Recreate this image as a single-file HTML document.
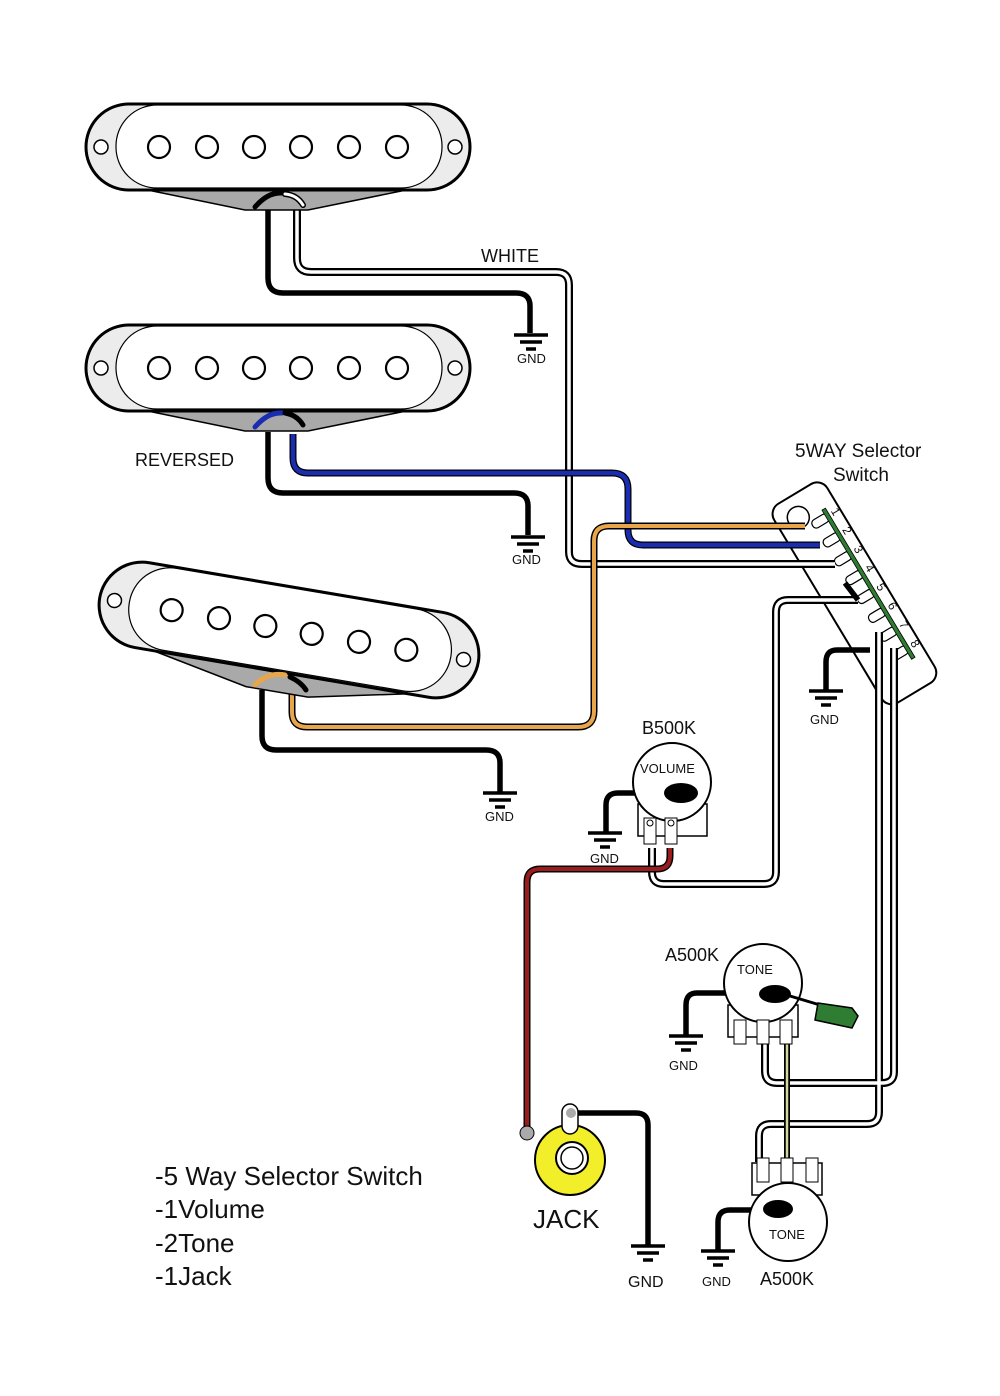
<!DOCTYPE html>
<html><head><meta charset="utf-8"><style>
html,body{margin:0;padding:0;background:#fff}
svg{display:block}
text{font-family:"Liberation Sans",sans-serif;fill:#111}
</style></head><body>
<svg width="1000" height="1396" viewBox="0 0 1000 1396" xmlns="http://www.w3.org/2000/svg">
<defs>
<g id="pu">
<path d="M-145,40 L-33,63 L30,63 L143,40 Z" fill="#a9a9a9" stroke="#000" stroke-width="1.5"/>
<rect x="-192" y="-43" width="384" height="86" rx="43" fill="#ececec" stroke="#000" stroke-width="3"/>
<rect x="-162" y="-42" width="326" height="83" rx="41" fill="#fff" stroke="#000" stroke-width="1.2"/>
<circle cx="-177" cy="0" r="7" fill="#fff" stroke="#000" stroke-width="1.5"/>
<circle cx="177" cy="0" r="7" fill="#fff" stroke="#000" stroke-width="1.5"/>
<g fill="#fff" stroke="#000" stroke-width="2.2">
<circle cx="-119" cy="0" r="11"/><circle cx="-71" cy="0" r="11"/><circle cx="-24" cy="0" r="11"/>
<circle cx="23" cy="0" r="11"/><circle cx="71" cy="0" r="11"/><circle cx="119" cy="0" r="11"/>
</g>
</g>
<g id="gnd" stroke="#000" stroke-width="3.5">
<line x1="-17" y1="0" x2="17" y2="0"/><line x1="-11" y1="7" x2="11" y2="7"/><line x1="-5" y1="14" x2="5" y2="14"/>
</g>
</defs>

<!-- switch body -->
<g transform="translate(845,599) rotate(59)">
<rect x="-116" y="-42" width="232" height="62" rx="12" fill="#fff" stroke="#000" stroke-width="2"/>
<circle cx="-94" cy="-2" r="11" fill="#fff" stroke="#000" stroke-width="1.5"/>
<g fill="#fff" stroke="#000" stroke-width="1.2">
<rect x="-84" y="-28" width="9" height="18" rx="4"/><rect x="-62" y="-28" width="9" height="18" rx="4"/>
<rect x="-40" y="-28" width="9" height="18" rx="4"/><rect x="-18" y="-28" width="9" height="18" rx="4"/>
<rect x="4" y="-28" width="9" height="18" rx="4"/><rect x="26" y="-28" width="9" height="18" rx="4"/>
<rect x="48" y="-28" width="9" height="18" rx="4"/><rect x="70" y="-28" width="9" height="18" rx="4"/>
</g>
<rect x="-88" y="-30" width="174" height="4" fill="#2e7d32" stroke="#000" stroke-width="0.8"/>
<g font-size="12" fill="#000">
<text x="-83" y="-33">1</text><text x="-61" y="-33">2</text><text x="-39" y="-33">3</text><text x="-17" y="-33">4</text>
<text x="5" y="-33">5</text><text x="27" y="-33">6</text><text x="49" y="-33">7</text><text x="71" y="-33">8</text>
</g>
</g>

<!-- white double wires -->
<g fill="none" stroke-linejoin="round">
<g stroke="#000" stroke-width="8">
<path d="M297,205 V258 Q297,272 311,272 H556 Q569,272 569,285 V552 Q569,564 582,564 H835"/>
<path d="M858,600 H788 Q776,600 776,612 V872 Q776,884 764,884 H664 Q652,884 652,872 V848"/>
<path d="M879,632 V1112 Q879,1124 867,1124 H771 Q759,1124 759,1136 V1162"/>
<path d="M894,648 V1072 Q894,1083 882,1083 H777 Q765,1083 765,1071 V1042"/>
</g>
<g stroke="#fff" stroke-width="3.5">
<path d="M297,205 V258 Q297,272 311,272 H556 Q569,272 569,285 V552 Q569,564 582,564 H835"/>
<path d="M858,600 H788 Q776,600 776,612 V872 Q776,884 764,884 H664 Q652,884 652,872 V848"/>
<path d="M879,632 V1112 Q879,1124 867,1124 H771 Q759,1124 759,1136 V1162"/>
<path d="M894,648 V1072 Q894,1083 882,1083 H777 Q765,1083 765,1071 V1042"/>
</g>
</g>

<!-- black ground wires -->
<g fill="none" stroke="#000" stroke-width="5.5">
<path d="M268,205 V278 Q268,293 283,293 H516 Q530,293 530,306 V333"/>
<path d="M268,432 V478 Q268,493 283,493 H514 Q528,493 528,506 V535"/>
<path d="M262,690 V736 Q262,750 276,750 H486 Q500,750 500,763 V792"/>
<path d="M870,650 H837 Q826,650 826,662 V690"/>
<path d="M680,793 H618 Q606,793 606,805 V832"/>
<path d="M775,993 H697 Q686,993 686,1005 V1035"/>
<path d="M778,1210 H730 Q718,1210 718,1222 V1250"/>
<path d="M574,1113 H636 Q648,1113 648,1125 V1245"/>
<path d="M845,583 L858,600"/>
</g>
<!-- blue -->
<path d="M293,434 V458 Q293,473 308,473 H612 Q628,473 628,489 V530 Q628,545 643,545 H820" fill="none" stroke="#000" stroke-width="7"/>
<path d="M293,434 V458 Q293,473 308,473 H612 Q628,473 628,489 V530 Q628,545 643,545 H820" fill="none" stroke="#1a2db0" stroke-width="4.5"/>
<!-- orange -->
<path d="M292,692 V712 Q292,727 307,727 H578 Q594,727 594,711 V541 Q594,526 609,526 H805" fill="none" stroke="#000" stroke-width="7"/>
<path d="M292,692 V712 Q292,727 307,727 H578 Q594,727 594,711 V541 Q594,526 609,526 H805" fill="none" stroke="#e8a64a" stroke-width="4"/>
<!-- red -->
<path d="M670,848 V856 Q670,869 657,869 H540 Q527,869 527,882 V1130" fill="none" stroke="#000" stroke-width="7"/>
<path d="M670,848 V856 Q670,869 657,869 H540 Q527,869 527,882 V1130" fill="none" stroke="#9b1c1c" stroke-width="4"/>
<!-- tone wire -->
<path d="M787,1042 V1162" stroke="#000" stroke-width="6" fill="none"/>
<path d="M787,1042 V1162" stroke="#d6d6a0" stroke-width="2.5" fill="none"/>

<!-- pickups -->
<use href="#pu" x="278" y="147"/>
<use href="#pu" x="278" y="368"/>
<g transform="translate(289,630) rotate(9.6)"><use href="#pu"/></g>
<g fill="none" stroke-linecap="round">
<path d="M255,207 Q268,192 282,193" stroke="#000" stroke-width="5"/>
<path d="M285,194 Q297,195 303,205" stroke="#000" stroke-width="6"/><path d="M285,194 Q297,195 303,205" stroke="#fff" stroke-width="3"/>
<path d="M255,427 Q268,412 282,413" stroke="#1a2db0" stroke-width="5"/>
<path d="M285,413 Q297,415 303,425" stroke="#000" stroke-width="5"/>
<path d="M255,685 Q268,672 285,675" stroke="#e8a64a" stroke-width="5"/>
<path d="M290,677 Q301,682 306,690" stroke="#000" stroke-width="5"/>
</g>

<!-- GND symbols -->
<use href="#gnd" x="531" y="335"/><text x="517" y="363" font-size="13">GND</text>
<use href="#gnd" x="528" y="537"/><text x="512" y="564" font-size="13">GND</text>
<use href="#gnd" x="500" y="793"/><text x="485" y="821" font-size="13">GND</text>
<use href="#gnd" x="826" y="691"/><text x="810" y="724" font-size="13">GND</text>
<use href="#gnd" x="605" y="833"/><text x="590" y="863" font-size="13">GND</text>
<use href="#gnd" x="686" y="1036"/><text x="669" y="1070" font-size="13">GND</text>
<use href="#gnd" x="648" y="1246"/><text x="628" y="1287" font-size="16">GND</text>
<use href="#gnd" x="718" y="1251"/><text x="702" y="1286" font-size="13">GND</text>

<text x="795" y="457" font-size="19">5WAY Selector</text>
<text x="833" y="481" font-size="19">Switch</text>

<!-- volume pot -->
<rect x="638" y="804" width="69" height="32" fill="#fff" stroke="#000" stroke-width="1.5"/>
<circle cx="672" cy="782" r="39" fill="#fff" stroke="#000" stroke-width="2"/>
<ellipse cx="681" cy="793" rx="17" ry="10" fill="#000"/>
<rect x="644" y="818" width="12" height="26" fill="#fff" stroke="#000"/>
<rect x="665" y="818" width="12" height="26" fill="#fff" stroke="#000"/>
<circle cx="650" cy="823" r="3" fill="#fff" stroke="#000"/><circle cx="671" cy="823" r="3" fill="#fff" stroke="#000"/>
<text x="640" y="773" font-size="13">VOLUME</text>
<text x="642" y="734" font-size="18">B500K</text>

<!-- tone 1 -->
<rect x="728" y="1005" width="70" height="32" fill="#fff" stroke="#000" stroke-width="1.5"/>
<circle cx="763" cy="983" r="39" fill="#fff" stroke="#000" stroke-width="2"/>
<ellipse cx="775" cy="994" rx="16" ry="9" fill="#000"/>
<line x1="790" y1="996" x2="820" y2="1005" stroke="#000" stroke-width="3"/>
<path d="M818,1003 L852,1008 L858,1016 L852,1028 L815,1020 Z" fill="#2e7d32" stroke="#000" stroke-width="1.5"/>
<g fill="#fff" stroke="#000"><rect x="734" y="1020" width="12" height="24"/><rect x="757" y="1020" width="12" height="24"/><rect x="780" y="1020" width="12" height="24"/></g>
<text x="737" y="974" font-size="13">TONE</text>
<text x="665" y="961" font-size="18">A500K</text>

<!-- tone 2 -->
<rect x="752" y="1163" width="70" height="32" fill="#fff" stroke="#000" stroke-width="1.5"/>
<g fill="#fff" stroke="#000"><rect x="757" y="1158" width="12" height="24"/><rect x="781" y="1158" width="12" height="24"/><rect x="806" y="1158" width="12" height="24"/></g>
<circle cx="788" cy="1222" r="39" fill="#fff" stroke="#000" stroke-width="2"/>
<ellipse cx="778" cy="1209" rx="15" ry="9" fill="#000"/>
<text x="769" y="1239" font-size="13">TONE</text>
<text x="760" y="1285" font-size="18">A500K</text>

<!-- jack -->
<circle cx="570" cy="1160" r="35" fill="#f2ef2a" stroke="#000" stroke-width="2"/>
<rect x="562" y="1104" width="16" height="30" rx="8" fill="#fff" stroke="#000" stroke-width="1.5"/>
<circle cx="571" cy="1113" r="5" fill="#aaa"/>
<circle cx="527" cy="1133" r="7" fill="#aaa" stroke="#000"/>
<circle cx="572" cy="1158" r="16" fill="#fff" stroke="#000" stroke-width="2"/>
<circle cx="572" cy="1158" r="11" fill="#fff" stroke="#000" stroke-width="1.5"/>
<text x="533" y="1228" font-size="26">JACK</text>

<!-- labels -->
<text x="481" y="262" font-size="18">WHITE</text>
<text x="135" y="466" font-size="18">REVERSED</text>
<g font-size="26">
<text x="155" y="1185">-5 Way Selector Switch</text>
<text x="155" y="1218">-1Volume</text>
<text x="155" y="1252">-2Tone</text>
<text x="155" y="1285">-1Jack</text>
</g>
</svg>
</body></html>
